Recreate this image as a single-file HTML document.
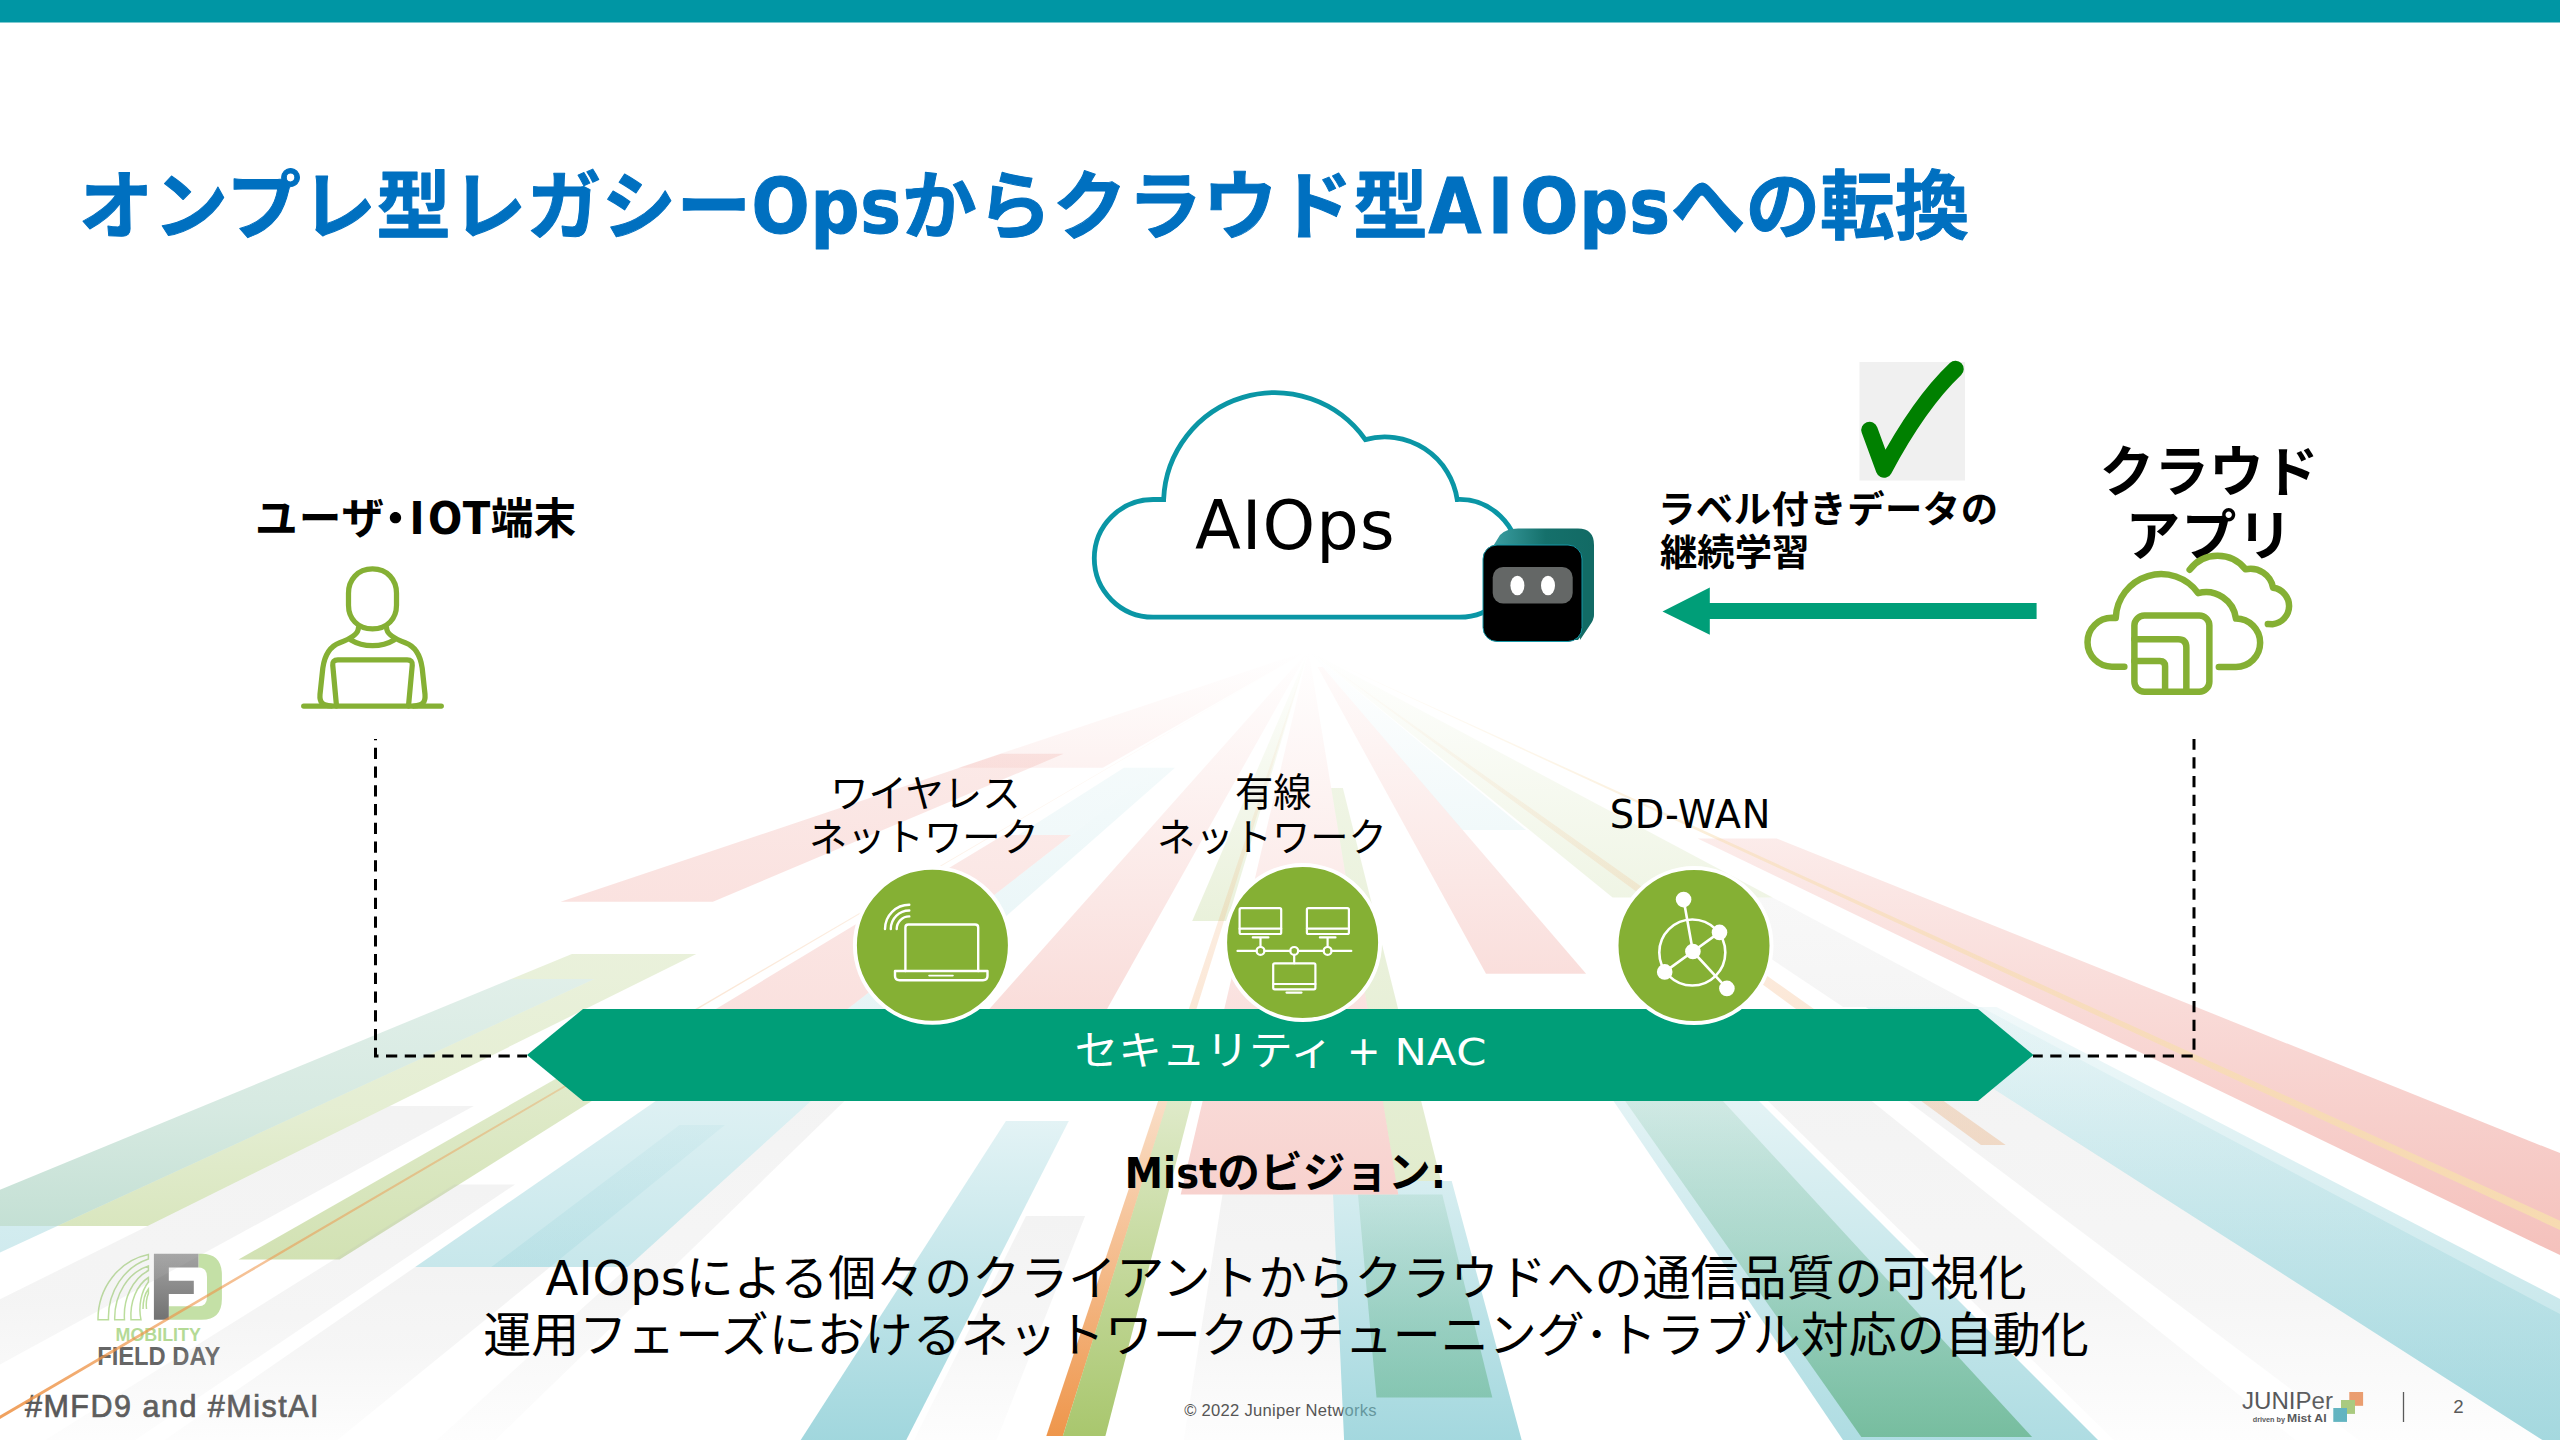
<!DOCTYPE html>
<html lang="ja">
<head>
<meta charset="utf-8">
<title>オンプレ型レガシーOpsからクラウド型AIOpsへの転換</title>
<style>
html,body{margin:0;padding:0;background:#fff}
body{width:2560px;height:1440px;overflow:hidden;position:relative}
svg{position:absolute;left:0;top:0;display:block}
text{white-space:pre}
.jb{font-family:"DejaVu Sans Condensed","DejaVu Sans","Liberation Sans","Noto Sans CJK JP",sans-serif;font-weight:700}
.jr{font-family:"DejaVu Sans","Liberation Sans","Noto Sans CJK JP",sans-serif;font-weight:400}
.lr{font-family:"Liberation Sans","DejaVu Sans",sans-serif;font-weight:400}
.lb{font-family:"Liberation Sans","DejaVu Sans",sans-serif;font-weight:700}
</style>
</head>
<body>
<svg id="slide" width="2560" height="1440" viewBox="0 0 2560 1440">
<!-- ===== master layer: top bar + footer ===== -->
<g id="master">
<rect x="0" y="0" width="2560" height="22.5" fill="#0096A4"/>
<!-- Mobility Field Day logo -->
<g id="mfd">
<defs><linearGradient id="fgr" x1="0" y1="0" x2="0" y2="1"><stop offset="0" stop-color="#A3A3A3"/><stop offset="1" stop-color="#727272"/></linearGradient></defs>
<path d="M198.4,1253.8 L201.6,1253.8 Q221.9,1253.8 221.9,1275.3 L221.9,1298.8 Q221.9,1319.8 201.6,1319.8 L168.8,1319.8 L168.8,1306.3 L198.4,1306.3 Q207,1306.3 207,1297.2 L207,1276.9 Q207,1267.5 198.4,1267.5 Z" fill="#C4E0A6"/>
<path d="M153.9,1253.8 L198.4,1253.8 L198.4,1267.5 L168.8,1267.5 L168.8,1280.8 L193.8,1280.8 L193.8,1294 L168.8,1294 L168.8,1319.8 L153.9,1319.8 Z" fill="url(#fgr)"/>
<g fill="none" stroke="#BBDD9C" stroke-width="1.5">
<path d="M98,1319.8 A62,66 0 0 1 148.4,1254.5 L148.4,1259 A57,61 0 0 0 108.5,1319.8 Z"/>
<path d="M114.7,1319.8 A45,54 0 0 1 148.4,1266 L148.4,1270.5 A40,49 0 0 0 124.5,1319.8 Z"/>
<path d="M131,1319.8 A30,42 0 0 1 148.4,1277.5 L148.4,1282 A26,37 0 0 0 141,1319.8 Z"/>
<path d="M143,1309 A12,24 0 0 1 148.4,1289 L148.4,1293.5 A9,18 0 0 0 146.5,1309"/>
</g>
<text class="lb" x="115.6" y="1341.3" font-size="17.9" fill="#B4DA96" textLength="85.2" lengthAdjust="spacingAndGlyphs">MOBILITY</text>
<text class="lb" x="97.2" y="1365.2" font-size="25.6" fill="#666" textLength="123.1" lengthAdjust="spacingAndGlyphs">FIELD DAY</text>
</g>
<text id="t_hash" class="lr" x="25" y="1416.7" font-size="30.5" fill="#595959" stroke="#595959" stroke-width="0.7" textLength="293.5" lengthAdjust="spacing">#MFD9 and #MistAI</text>
<text id="t_copy" class="lr" x="1280.4" y="1416.1" font-size="16.6" fill="#505050" text-anchor="middle" textLength="192.5" lengthAdjust="spacing">© 2022 Juniper Networks</text>
<!-- Juniper logo -->
<g id="juniper">
<text class="lr" x="2242" y="1409.2" font-size="24.5" fill="#58595B" textLength="91" lengthAdjust="spacingAndGlyphs">JUNIPer</text>
<text class="lb" x="2252.7" y="1421.5" font-size="7.6" fill="#58595B" textLength="32.3" lengthAdjust="spacingAndGlyphs">driven by</text>
<text class="lb" x="2287" y="1421.9" font-size="11" fill="#58595B" textLength="39.6" lengthAdjust="spacingAndGlyphs">Mist AI</text>
<rect x="2349.3" y="1392" width="13.8" height="13.8" fill="#ED9C6C"/>
<rect x="2341" y="1400" width="14" height="13.9" fill="#A9CB7D"/>
<rect x="2333.3" y="1408" width="13.7" height="13.9" fill="#5FB4C1"/>
</g>
<path d="M2403.5,1392 L2403.5,1422" stroke="#555" stroke-width="1.3"/>
<text id="t_page" class="lr" x="2458.4" y="1413.2" font-size="18.7" fill="#555" text-anchor="middle">2</text>

</g>
<!-- ===== background rays ===== -->
<g id="rays"><defs><linearGradient id="g0" gradientUnits="userSpaceOnUse" x1="0" y1="650.5" x2="0" y2="767.8"><stop offset="0.0000" stop-color="#ED938A" stop-opacity="0.0"/><stop offset="1.0000" stop-color="#ED938A" stop-opacity="0.12"/></linearGradient><linearGradient id="g1" gradientUnits="userSpaceOnUse" x1="0" y1="753.8" x2="0" y2="901.8"><stop offset="0.0000" stop-color="#ED938A" stop-opacity="0.2"/><stop offset="1.0000" stop-color="#ED938A" stop-opacity="0.27"/></linearGradient><linearGradient id="g2" gradientUnits="userSpaceOnUse" x1="0" y1="954.0" x2="0" y2="979.0"><stop offset="0.0000" stop-color="#9DBF5A" stop-opacity="0.22"/><stop offset="1.0000" stop-color="#9DBF5A" stop-opacity="0.225"/></linearGradient><linearGradient id="g3" gradientUnits="userSpaceOnUse" x1="0" y1="979.0" x2="0" y2="1226.0"><stop offset="0.0000" stop-color="#9DBF5A" stop-opacity="0.225"/><stop offset="0.5385" stop-color="#9DBF5A" stop-opacity="0.27"/><stop offset="1.0000" stop-color="#9DBF5A" stop-opacity="0.39"/></linearGradient><linearGradient id="g4" gradientUnits="userSpaceOnUse" x1="0" y1="979.0" x2="0" y2="1226.0"><stop offset="0.0000" stop-color="#56A684" stop-opacity="0.18"/><stop offset="0.5385" stop-color="#56A684" stop-opacity="0.243"/><stop offset="1.0000" stop-color="#56A684" stop-opacity="0.35"/></linearGradient><linearGradient id="g5" gradientUnits="userSpaceOnUse" x1="0" y1="1226.0" x2="0" y2="1330.0"><stop offset="0.0000" stop-color="#73C3CD" stop-opacity="0.32"/><stop offset="1.0000" stop-color="#73C3CD" stop-opacity="0.38"/></linearGradient><linearGradient id="g6" gradientUnits="userSpaceOnUse" x1="0" y1="1106.0" x2="0" y2="1445.0"><stop offset="0.0000" stop-color="#B8B8B8" stop-opacity="0.17"/><stop offset="0.5723" stop-color="#B8B8B8" stop-opacity="0.15"/><stop offset="1.0000" stop-color="#B8B8B8" stop-opacity="0.02"/></linearGradient><linearGradient id="g7" gradientUnits="userSpaceOnUse" x1="0" y1="1040.0" x2="0" y2="1259.5"><stop offset="0.0000" stop-color="#9DBF5A" stop-opacity="0.28"/><stop offset="1.0000" stop-color="#9DBF5A" stop-opacity="0.46"/></linearGradient><linearGradient id="g8" gradientUnits="userSpaceOnUse" x1="0" y1="650.5" x2="0" y2="1425.0"><stop offset="0.0000" stop-color="#EE9448" stop-opacity="0.0"/><stop offset="0.4513" stop-color="#EE9448" stop-opacity="0.22"/><stop offset="0.7611" stop-color="#EE9448" stop-opacity="0.52"/><stop offset="0.8773" stop-color="#EE9448" stop-opacity="0.68"/><stop offset="1.0000" stop-color="#EE9448" stop-opacity="0.9"/></linearGradient><linearGradient id="g9" gradientUnits="userSpaceOnUse" x1="0" y1="1184.5" x2="0" y2="1445.0"><stop offset="0.0000" stop-color="#B8B8B8" stop-opacity="0.17"/><stop offset="0.5202" stop-color="#B8B8B8" stop-opacity="0.14"/><stop offset="1.0000" stop-color="#B8B8B8" stop-opacity="0.02"/></linearGradient><linearGradient id="g10" gradientUnits="userSpaceOnUse" x1="0" y1="767.8" x2="0" y2="835.0"><stop offset="0.0000" stop-color="#73C3CD" stop-opacity="0.08"/><stop offset="1.0000" stop-color="#73C3CD" stop-opacity="0.1"/></linearGradient><linearGradient id="g11" gradientUnits="userSpaceOnUse" x1="0" y1="767.8" x2="0" y2="1060.0"><stop offset="0.0000" stop-color="#73C3CD" stop-opacity="0.08"/><stop offset="1.0000" stop-color="#73C3CD" stop-opacity="0.2"/></linearGradient><linearGradient id="g12" gradientUnits="userSpaceOnUse" x1="0" y1="835.0" x2="0" y2="1060.0"><stop offset="0.0000" stop-color="#ED938A" stop-opacity="0.2"/><stop offset="1.0000" stop-color="#ED938A" stop-opacity="0.3"/></linearGradient><linearGradient id="g13" gradientUnits="userSpaceOnUse" x1="0" y1="1060.0" x2="0" y2="1267.0"><stop offset="0.0000" stop-color="#73C3CD" stop-opacity="0.2"/><stop offset="1.0000" stop-color="#73C3CD" stop-opacity="0.4"/></linearGradient><linearGradient id="g14" gradientUnits="userSpaceOnUse" x1="0" y1="1125.0" x2="0" y2="1267.0"><stop offset="0.0000" stop-color="#73C3CD" stop-opacity="0.08"/><stop offset="1.0000" stop-color="#73C3CD" stop-opacity="0.16"/></linearGradient><linearGradient id="g15" gradientUnits="userSpaceOnUse" x1="0" y1="1267.0" x2="0" y2="1445.0"><stop offset="0.0000" stop-color="#B8B8B8" stop-opacity="0.17"/><stop offset="0.4663" stop-color="#B8B8B8" stop-opacity="0.13"/><stop offset="1.0000" stop-color="#B8B8B8" stop-opacity="0.02"/></linearGradient><linearGradient id="g16" gradientUnits="userSpaceOnUse" x1="0" y1="1050.0" x2="0" y2="1445.0"><stop offset="0.0000" stop-color="#B8B8B8" stop-opacity="0.17"/><stop offset="0.6329" stop-color="#B8B8B8" stop-opacity="0.13"/><stop offset="1.0000" stop-color="#B8B8B8" stop-opacity="0.02"/></linearGradient><linearGradient id="g17" gradientUnits="userSpaceOnUse" x1="0" y1="650.5" x2="0" y2="1060.0"><stop offset="0.0000" stop-color="#ED938A" stop-opacity="0.0"/><stop offset="1.0000" stop-color="#ED938A" stop-opacity="0.36"/></linearGradient><linearGradient id="g18" gradientUnits="userSpaceOnUse" x1="0" y1="1121.0" x2="0" y2="1445.0"><stop offset="0.0000" stop-color="#73C3CD" stop-opacity="0.2"/><stop offset="1.0000" stop-color="#73C3CD" stop-opacity="0.68"/></linearGradient><linearGradient id="g19" gradientUnits="userSpaceOnUse" x1="0" y1="1216.0" x2="0" y2="1445.0"><stop offset="0.0000" stop-color="#B8B8B8" stop-opacity="0.17"/><stop offset="0.4978" stop-color="#B8B8B8" stop-opacity="0.13"/><stop offset="1.0000" stop-color="#B8B8B8" stop-opacity="0.02"/></linearGradient><linearGradient id="g20" gradientUnits="userSpaceOnUse" x1="0" y1="650.5" x2="0" y2="921.0"><stop offset="0.0000" stop-color="#9DBF5A" stop-opacity="0.0"/><stop offset="1.0000" stop-color="#9DBF5A" stop-opacity="0.22"/></linearGradient><linearGradient id="g21" gradientUnits="userSpaceOnUse" x1="0" y1="650.5" x2="0" y2="1436.0"><stop offset="0.0000" stop-color="#EE9448" stop-opacity="0.0"/><stop offset="0.4551" stop-color="#EE9448" stop-opacity="0.22"/><stop offset="0.5735" stop-color="#EE9448" stop-opacity="0.31"/><stop offset="0.8269" stop-color="#EE9448" stop-opacity="0.7"/><stop offset="1.0000" stop-color="#EE9448" stop-opacity="0.98"/></linearGradient><linearGradient id="g22" gradientUnits="userSpaceOnUse" x1="0" y1="1060.0" x2="0" y2="1436.0"><stop offset="0.0000" stop-color="#9DBF5A" stop-opacity="0.26"/><stop offset="1.0000" stop-color="#9DBF5A" stop-opacity="0.88"/></linearGradient><linearGradient id="g23" gradientUnits="userSpaceOnUse" x1="0" y1="1194.5" x2="0" y2="1445.0"><stop offset="0.0000" stop-color="#B8B8B8" stop-opacity="0.17"/><stop offset="0.5409" stop-color="#B8B8B8" stop-opacity="0.13"/><stop offset="1.0000" stop-color="#B8B8B8" stop-opacity="0.02"/></linearGradient><linearGradient id="g24" gradientUnits="userSpaceOnUse" x1="0" y1="1181.0" x2="0" y2="1445.0"><stop offset="0.0000" stop-color="#73C3CD" stop-opacity="0.29"/><stop offset="1.0000" stop-color="#73C3CD" stop-opacity="0.66"/></linearGradient><linearGradient id="g25" gradientUnits="userSpaceOnUse" x1="0" y1="1194.5" x2="0" y2="1397.5"><stop offset="0.0000" stop-color="#5FB082" stop-opacity="0.15"/><stop offset="1.0000" stop-color="#5FB082" stop-opacity="0.5"/></linearGradient><linearGradient id="g26" gradientUnits="userSpaceOnUse" x1="0" y1="650.5" x2="0" y2="1194.5"><stop offset="0.0000" stop-color="#ED938A" stop-opacity="0.0"/><stop offset="1.0000" stop-color="#ED938A" stop-opacity="0.42"/></linearGradient><linearGradient id="g27" gradientUnits="userSpaceOnUse" x1="0" y1="788.0" x2="0" y2="1181.0"><stop offset="0.0000" stop-color="#9DBF5A" stop-opacity="0.16"/><stop offset="1.0000" stop-color="#9DBF5A" stop-opacity="0.3"/></linearGradient><linearGradient id="g28" gradientUnits="userSpaceOnUse" x1="0" y1="667.0" x2="0" y2="973.8"><stop offset="0.0000" stop-color="#ED938A" stop-opacity="0.04"/><stop offset="1.0000" stop-color="#ED938A" stop-opacity="0.3"/></linearGradient><linearGradient id="g29" gradientUnits="userSpaceOnUse" x1="0" y1="650.5" x2="0" y2="830.0"><stop offset="0.0000" stop-color="#73C3CD" stop-opacity="0.0"/><stop offset="1.0000" stop-color="#73C3CD" stop-opacity="0.1"/></linearGradient><linearGradient id="g30" gradientUnits="userSpaceOnUse" x1="0" y1="650.5" x2="0" y2="897.5"><stop offset="0.0000" stop-color="#9DBF5A" stop-opacity="0.0"/><stop offset="1.0000" stop-color="#9DBF5A" stop-opacity="0.16"/></linearGradient><linearGradient id="g31" gradientUnits="userSpaceOnUse" x1="0" y1="897.5" x2="0" y2="1007.0"><stop offset="0.0000" stop-color="#B8B8B8" stop-opacity="0.1"/><stop offset="1.0000" stop-color="#B8B8B8" stop-opacity="0.14"/></linearGradient><linearGradient id="g32" gradientUnits="userSpaceOnUse" x1="0" y1="650.5" x2="0" y2="1145.0"><stop offset="0.0000" stop-color="#EE9448" stop-opacity="0.0"/><stop offset="1.0000" stop-color="#EE9448" stop-opacity="0.3"/></linearGradient><linearGradient id="g33" gradientUnits="userSpaceOnUse" x1="0" y1="1050.0" x2="0" y2="1445.0"><stop offset="0.0000" stop-color="#73C3CD" stop-opacity="0.14"/><stop offset="1.0000" stop-color="#73C3CD" stop-opacity="0.58"/></linearGradient><linearGradient id="g34" gradientUnits="userSpaceOnUse" x1="0" y1="1050.0" x2="0" y2="1437.0"><stop offset="0.0000" stop-color="#5FB082" stop-opacity="0.09"/><stop offset="0.5168" stop-color="#5FB082" stop-opacity="0.32"/><stop offset="1.0000" stop-color="#5FB082" stop-opacity="0.7"/></linearGradient><linearGradient id="g35" gradientUnits="userSpaceOnUse" x1="0" y1="1050.0" x2="0" y2="1445.0"><stop offset="0.0000" stop-color="#B8B8B8" stop-opacity="0.17"/><stop offset="0.6329" stop-color="#B8B8B8" stop-opacity="0.13"/><stop offset="1.0000" stop-color="#B8B8B8" stop-opacity="0.02"/></linearGradient><linearGradient id="g36" gradientUnits="userSpaceOnUse" x1="0" y1="1030.0" x2="0" y2="1445.0"><stop offset="0.0000" stop-color="#B8B8B8" stop-opacity="0.17"/><stop offset="0.6506" stop-color="#B8B8B8" stop-opacity="0.13"/><stop offset="1.0000" stop-color="#B8B8B8" stop-opacity="0.02"/></linearGradient><linearGradient id="g37" gradientUnits="userSpaceOnUse" x1="0" y1="1007.0" x2="0" y2="1445.0"><stop offset="0.0000" stop-color="#73C3CD" stop-opacity="0.1"/><stop offset="1.0000" stop-color="#73C3CD" stop-opacity="0.5"/></linearGradient><linearGradient id="g38" gradientUnits="userSpaceOnUse" x1="0" y1="1007.0" x2="0" y2="1445.0"><stop offset="0.0000" stop-color="#73C3CD" stop-opacity="0.06"/><stop offset="1.0000" stop-color="#73C3CD" stop-opacity="0.3"/></linearGradient><linearGradient id="g39" gradientUnits="userSpaceOnUse" x1="0" y1="838.5" x2="0" y2="1262.0"><stop offset="0.0000" stop-color="#ED938A" stop-opacity="0.18"/><stop offset="1.0000" stop-color="#ED938A" stop-opacity="0.58"/></linearGradient><linearGradient id="g40" gradientUnits="userSpaceOnUse" x1="0" y1="650.5" x2="0" y2="1262.0"><stop offset="0.0000" stop-color="#F7DDB0" stop-opacity="0.0"/><stop offset="0.3074" stop-color="#F7DDB0" stop-opacity="0.5"/><stop offset="1.0000" stop-color="#F7DDB0" stop-opacity="0.95"/></linearGradient></defs><polygon points="1308.5,650.5 1308.5,650.5 1102.8,767.8 958.4,767.8" fill="url(#g0)"/><polygon points="1001.1,753.8 1063.7,753.8 712.9,901.8 560.6,901.8" fill="url(#g1)"/><polygon points="571.9,954.0 696.3,954.0 645.9,979.0 511.2,979.0" fill="url(#g2)"/><polygon points="594.3,979.0 645.9,979.0 147.7,1226.0 57.4,1226.0" fill="url(#g3)"/><polygon points="511.2,979.0 594.3,979.0 57.4,1226.0 -88.2,1226.0" fill="url(#g4)"/><polygon points="-187.8,1226.0 57.4,1226.0 -168.7,1330.0 -458.2,1330.0" fill="url(#g5)"/><polygon points="389.8,1106.0 473.8,1106.0 -147.5,1445.0 -294.0,1445.0" fill="url(#g6)"/><polygon points="624.1,1040.0 688.8,1040.0 339.6,1259.5 238.5,1259.5" fill="url(#g7)"/><polygon points="1308.5,650.5 1308.5,650.5 -10.2,1425.0 -16.3,1425.0" fill="url(#g8)"/><polygon points="454.1,1184.5 515.0,1184.5 127.9,1445.0 37.3,1445.0" fill="url(#g9)"/><polygon points="1123.9,767.8 1157.7,767.8 1071.2,835.0 1018.2,835.0" fill="url(#g10)"/><polygon points="1157.7,767.8 1175.0,767.8 842.6,1060.0 781.9,1060.0" fill="url(#g11)"/><polygon points="1003.5,835.0 1071.2,835.0 781.9,1060.0 631.6,1060.0" fill="url(#g12)"/><polygon points="715.1,1060.0 856.4,1060.0 627.9,1267.0 415.2,1267.0" fill="url(#g13)"/><polygon points="679.5,1125.0 724.9,1125.0 550.2,1267.0 491.3,1267.0" fill="url(#g14)"/><polygon points="415.2,1267.0 550.2,1267.0 331.3,1445.0 157.3,1445.0" fill="url(#g15)"/><polygon points="867.5,1050.0 897.0,1050.0 490.2,1445.0 431.4,1445.0" fill="url(#g16)"/><polygon points="1308.5,650.5 1308.5,650.5 1078.4,1060.0 944.0,1060.0" fill="url(#g17)"/><polygon points="1005.9,1121.0 1068.8,1121.0 903.7,1445.0 797.5,1445.0" fill="url(#g18)"/><polygon points="1026.0,1216.0 1085.1,1216.0 994.7,1445.0 911.6,1445.0" fill="url(#g19)"/><polygon points="1308.5,650.5 1308.5,650.5 1227.3,921.0 1192.2,921.0" fill="url(#g20)"/><polygon points="1308.5,650.5 1308.5,650.5 1062.9,1436.0 1046.3,1436.0" fill="url(#g21)"/><polygon points="1180.4,1060.0 1202.6,1060.0 1105.4,1436.0 1062.9,1436.0" fill="url(#g22)"/><polygon points="1222.5,1194.5 1333.0,1194.5 1344.3,1445.0 1183.0,1445.0" fill="url(#g23)"/><polygon points="1333.0,1194.5 1398.3,1194.5 1396.0,1181.0 1451.7,1181.0 1523.0,1445.0 1344.3,1445.0" fill="url(#g24)"/><polygon points="1358.0,1194.5 1442.3,1194.5 1492.3,1397.5 1376.5,1397.5" fill="url(#g25)"/><polygon points="1308.5,650.5 1308.5,650.5 1398.3,1194.5 1180.7,1194.5" fill="url(#g26)"/><polygon points="1331.2,788.0 1342.9,788.0 1441.1,1181.0 1396.0,1181.0" fill="url(#g27)"/><polygon points="1317.6,667.0 1322.7,667.0 1586.1,973.8 1486.0,973.8" fill="url(#g28)"/><polygon points="1308.5,650.5 1308.5,650.5 1526.1,830.0 1462.5,830.0" fill="url(#g29)"/><polygon points="1308.5,650.5 1308.5,650.5 1772.6,897.5 1612.6,897.5" fill="url(#g30)"/><polygon points="1679.0,897.5 1772.6,897.5 1978.4,1007.0 1843.2,1007.0" fill="url(#g31)"/><polygon points="1308.5,650.5 1308.5,650.5 2005.7,1145.0 1981.0,1145.0" fill="url(#g32)"/><polygon points="1579.0,1050.0 1708.0,1050.0 2103.0,1445.0 1846.4,1445.0" fill="url(#g33)"/><polygon points="1589.3,1050.0 1676.0,1050.0 2032.1,1437.0 1861.3,1437.0" fill="url(#g34)"/><polygon points="1716.0,1050.0 1807.9,1050.0 2301.6,1445.0 2118.9,1445.0" fill="url(#g35)"/><polygon points="1813.2,1030.0 1901.7,1030.0 2550.3,1445.0 2365.2,1445.0" fill="url(#g36)"/><polygon points="1865.7,1007.0 1996.5,1007.0 2841.9,1445.0 2550.3,1445.0" fill="url(#g37)"/><polygon points="1865.7,1007.0 1980.9,1007.0 2806.9,1445.0 2550.3,1445.0" fill="url(#g38)"/><polygon points="1697.7,838.5 1776.6,838.5 2831.1,1262.0 2574.3,1262.0" fill="url(#g39)"/><polygon points="1308.5,650.5 1308.5,650.5 2650.7,1262.0 2629.3,1262.0" fill="url(#g40)"/></g>
<!-- ===== content ===== -->
<g id="content">
<!-- title -->
<text id="title" class="jb" x="78.5" y="233" font-size="74.67" fill="#0070C0" stroke="#0070C0" stroke-width="1" stroke-linejoin="round"><tspan letter-spacing="0.37">オンプレ型レガシー</tspan><tspan font-size="76" letter-spacing="0.9">Ops</tspan><tspan letter-spacing="0.55">からクラウド型</tspan><tspan font-size="76">A</tspan><tspan font-size="76" dx="6.5">I</tspan><tspan font-size="76" dx="7" letter-spacing="0.9">Ops</tspan>への転換</text>

<!-- user / IoT -->
<text id="t_user" class="jb" x="255" y="534" font-size="42.67" fill="#000"><tspan letter-spacing="1">ユーザ</tspan><tspan font-size="58" x="380.9" dy="6">･</tspan><tspan font-size="44.8" x="409.5" dy="-6">I</tspan><tspan font-size="44.8" dx="3.5">O</tspan><tspan font-size="44.8" dx="0.5">T</tspan><tspan dx="0.5">端末</tspan></text>
<g id="ic_user" transform="translate(200,460) scale(0.1875)" fill="none" stroke="#85B034" stroke-width="28" stroke-linecap="round" stroke-linejoin="round">
<path d="M920,581 C1000,581 1048,640 1048,710 L1048,775 C1048,845 1000,901 920,901 C840,901 792,845 792,775 L792,710 C792,640 840,581 920,581 Z"/>
<path d="M845,895 C845,930 800,955 745,975 C690,995 665,1040 655,1110 L640,1250 C637,1290 650,1310 700,1312"/>
<path d="M995,895 C995,930 1040,955 1095,975 C1150,995 1175,1040 1185,1110 L1200,1250 C1203,1290 1190,1310 1140,1312"/>
<path d="M805,960 C870,1000 970,1000 1035,960"/>
<path d="M728,1312 L708,1095 C706,1075 715,1066 735,1066 L1105,1066 C1125,1066 1134,1075 1132,1095 L1112,1312"/>
<path d="M553,1312 L1287,1312"/>
</g>

<!-- AIOps cloud -->
<g id="cloud" transform="translate(1070,370) scale(0.21875)">
<path d="M428,592 A508,508 0 0 1 1350,318 A335,335 0 0 1 1770,592 A269,269 0 0 1 2049,861 A269,269 0 0 1 1780,1130 L380,1130 A269,269 0 0 1 380,592 Z" fill="#fff" stroke="#0A96A5" stroke-width="22" stroke-linejoin="miter"/>
</g>
<text id="t_aiops" class="jr" x="1195" y="549.4" font-size="67" letter-spacing="1" fill="#000">AIOps</text>
<!-- Marvis robot -->
<g id="robot">
<defs><linearGradient id="rbTop" x1="0" y1="0" x2="1" y2="0"><stop offset="0" stop-color="#3FA3A8"/><stop offset="0.55" stop-color="#15706B"/><stop offset="1" stop-color="#126A64"/></linearGradient></defs>
<path d="M1487,556 L1500,535 Q1506,528.5 1518,528.5 L1578,528.5 Q1594,528.5 1594,545 L1594,612 Q1594,618 1590,624 L1578,640 L1540,640 L1540,556 Z" fill="url(#rbTop)"/>
<path d="M1582,560 L1594,545 L1594,614 Q1594,620 1590,625 L1580,640 Z" fill="#126B65"/>
<rect x="1483" y="545" width="99" height="96.5" rx="14" ry="14" fill="#000" stroke="#1597A6" stroke-width="1"/>
<rect x="1492.7" y="566.9" width="80" height="36.7" rx="10.5" ry="10.5" fill="#646766"/>
<ellipse cx="1517.4" cy="585.5" rx="7" ry="9.8" fill="#fff"/>
<ellipse cx="1548" cy="585.5" rx="7" ry="9.8" fill="#fff"/>
</g>

<!-- check mark -->
<rect x="1859.5" y="362" width="105.5" height="118.5" fill="#F0F0F0"/>
<path d="M1869.5,430 L1884,469.5 C1904,432 1927,396 1955.5,369" fill="none" stroke="#008000" stroke-width="16.5" stroke-linecap="round" stroke-linejoin="round"/>

<!-- label text -->
<text id="t_label1" class="jb" letter-spacing="0.5" x="1658" y="523" font-size="37.33" fill="#000">ラベル付きデータの</text>
<text id="t_label2" class="jb" x="1660" y="566.4" font-size="37.33" fill="#000">継続学習</text>
<!-- arrow -->
<path d="M1662.5,611.4 L1709.8,587.5 L1709.8,603 L2036.6,603 L2036.6,619 L1709.8,619 L1709.8,634.8 Z" fill="#009E78"/>

<!-- cloud app -->
<text id="t_capp1" class="jb" x="2209" y="491" font-size="54.8" fill="#000" text-anchor="middle">クラウド</text>
<text id="t_capp2" class="jb" x="2209.5" y="555" font-size="54.8" letter-spacing="1.2" fill="#000" text-anchor="middle">アプリ</text>
<g id="ic_capp" transform="translate(2060,540) scale(0.11808)" fill="none" stroke="#85B034" stroke-width="55" stroke-linecap="round" stroke-linejoin="round">
<path d="M1098,252 A298,298 0 0 1 1570,248 A195,195 0 0 1 1805,405 A155,155 0 0 1 1800,713 L1760,712"/>
<path d="M545,1073 L440,1073 A207,207 0 0 1 233,866 A207,207 0 0 1 440,659 L472,661 A385,385 0 0 1 1170,450 A256,256 0 0 1 1490,665 A205,205 0 0 1 1490,1075 L1345,1075"/>
<rect x="630" y="640" width="635" height="645" rx="85" ry="85"/>
<path d="M630,840 L1000,840 Q1070,840 1070,910 L1070,1285"/>
<path d="M630,1025 L845,1025 Q890,1025 890,1070 L890,1285"/>
</g>

<!-- dashed connectors -->
<path d="M527,1056 L375.5,1056 L375.5,739" fill="none" stroke="#000" stroke-width="3" stroke-dasharray="11.25 7.5" stroke-dashoffset="1.5"/>
<path d="M2033,1056 L2194,1056 L2194,739" fill="none" stroke="#000" stroke-width="3" stroke-dasharray="11.25 7.5" stroke-dashoffset="1.5"/>

<!-- network labels -->
<text id="t_w1" class="jr" x="925.3" y="807.3" font-size="38.3" text-anchor="middle">ワイヤレス</text>
<text id="t_w2" class="jr" x="923.9" y="851" font-size="38.3" text-anchor="middle">ネットワーク</text>
<text id="t_l1" class="jr" x="1273.2" y="805.5" font-size="38.3" text-anchor="middle">有線</text>
<text id="t_l2" class="jr" x="1272" y="850.5" font-size="38.3" text-anchor="middle">ネットワーク</text>
<text id="t_sd" class="jr" x="1690.4" y="828.4" font-size="38.3" letter-spacing="0.8" text-anchor="middle">SD-WAN</text>

<!-- banner -->
<polygon points="527,1055 583,1009 1978,1009 2033.5,1055 1978,1101 583,1101" fill="#009E78"/>
<g id="t_sec" class="jr" fill="#fff">
<text transform="translate(1074.6,1065) scale(1.08,1)" font-size="40.5" letter-spacing="-0.1">セキュリティ</text>
<text x="1346.8" y="1065" font-size="40.5">+</text>
<text transform="translate(1394.4,1065) scale(1.15,1)" font-size="37.6" letter-spacing="0.3">NAC</text>
</g>

<!-- circles -->
<g id="c1">
<circle cx="932.4" cy="945.3" r="77.5" fill="#85B034" stroke="#fff" stroke-width="4"/>
<g fill="none" stroke="#fff" stroke-width="2.4" stroke-linejoin="round" stroke-linecap="round">
<path d="M905.4,971 L905.4,927.5 Q905.4,924.5 908.4,924.5 L975.2,924.5 Q978.2,924.5 978.2,927.5 L978.2,971"/>
<path d="M895,971 L987.5,971 L987.5,976 Q987.5,980.2 983,980.2 L899.5,980.2 Q895,980.2 895,976 Z"/>
<path d="M929,975.6 L953,975.6" stroke-width="1.6"/>
<path d="M896.7,929 A12.6,12.6 0 0 1 909.3,916.4" />
<path d="M890.8,929 A18.5,18.5 0 0 1 909.3,910.5" />
<path d="M885,929 A24.3,24.3 0 0 1 909.3,904.7" />
</g>
</g>
<g id="c2">
<circle cx="1302.6" cy="942.5" r="77.5" fill="#85B034" stroke="#fff" stroke-width="4"/>
<g fill="none" stroke="#fff" stroke-width="2.2" stroke-linejoin="round" stroke-linecap="round">
<rect x="1239.6" y="908.2" width="41.6" height="25.8" rx="1.5"/><path d="M1239.6,928.7 L1281.2,928.7"/><path d="M1252.8,937.4 L1268.4,937.4 M1260.5,937.4 L1260.5,947"/>
<rect x="1306.9" y="908.2" width="42" height="25.8" rx="1.5"/><path d="M1306.9,928.7 L1348.9,928.7"/><path d="M1319.9,937.4 L1335.5,937.4 M1327.6,937.4 L1327.6,947"/>
<rect x="1273.2" y="963.3" width="42.2" height="26" rx="1.5"/><path d="M1273.2,984 L1315.4,984"/><path d="M1286.5,992.6 L1301.5,992.6 M1294.2,954.8 L1294.2,963.3"/>
<path d="M1237.5,950.9 L1256.6,950.9 M1264.4,950.9 L1290.3,950.9 M1298.1,950.9 L1323.7,950.9 M1331.5,950.9 L1351.3,950.9"/>
<circle cx="1260.5" cy="950.9" r="3.9"/><circle cx="1294.2" cy="950.9" r="3.9"/><circle cx="1327.6" cy="950.9" r="3.9"/>
</g>
</g>
<g id="c3">
<circle cx="1694" cy="945.6" r="77.5" fill="#85B034" stroke="#fff" stroke-width="4"/>
<g stroke="#fff" stroke-width="2.6" fill="none">
<circle cx="1692.3" cy="952.5" r="33"/>
<path d="M1683.6,899.6 L1692.9,951.5 L1719.5,932.4 M1664.7,971.9 L1692.9,951.5 L1726.9,988.4"/>
</g>
<g fill="#fff"><circle cx="1683.6" cy="899.6" r="7.8"/><circle cx="1719.5" cy="932.4" r="7.8"/><circle cx="1692.9" cy="951.5" r="7.8"/><circle cx="1664.7" cy="971.9" r="7.8"/><circle cx="1726.9" cy="988.4" r="7.8"/></g>
</g>

<!-- vision -->
<text id="t_vis" class="jb" x="1285.4" y="1187.5" font-size="42.67" text-anchor="middle">Mistのビジョン:</text>
<text id="t_b1" class="jr" x="1286" y="1294.5" font-size="48" text-anchor="middle">AIOpsによる個々のクライアントからクラウドへの通信品質の可視化</text>
<text id="t_b2" class="jr" x="1286" y="1352" font-size="48" text-anchor="middle">運用フェーズにおけるネットワークのチューニング･トラブル対応の自動化</text>

</g>
</svg>
</body>
</html>
